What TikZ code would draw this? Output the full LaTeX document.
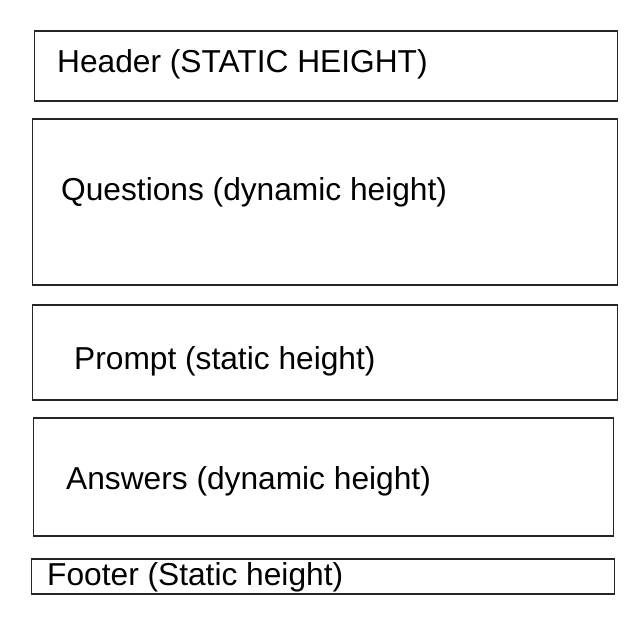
\documentclass[tikz,border=0pt]{standalone}
\usepackage{fontspec}
\setmainfont{Liberation Sans}
\begin{document}
\begin{tikzpicture}[x=1pt,y=-1pt,
  panel/.style={draw=black!85,line width=1.8pt,inner sep=0pt,anchor=north west,minimum width=#1},
  lbl/.style={anchor=base west,inner sep=0pt,font=\fontsize{31.7}{36}\selectfont,text=black}]
\useasboundingbox (0,0) rectangle (635,627);
\node[panel=583pt,minimum height=70pt] (header) at (33.5,30) {};
\node[panel=585pt,minimum height=166pt] (questions) at (31.5,118) {};
\node[panel=585pt,minimum height=95pt] (prompt) at (31.5,304) {};
\node[panel=580pt,minimum height=118pt] (answers) at (32.5,417) {};
\node[panel=583pt,minimum height=35pt] (footer) at (30.5,558) {};
\node[lbl] (headerlbl) at (57,72.5) {Header (STATIC HEIGHT)};
\node[lbl] (questionslbl) at (61,200) {Questions (dynamic height)};
\node[lbl] (promptlbl) at (74,369.5) {Prompt (static height)};
\node[lbl] (answerslbl) at (66,489) {Answers (dynamic height)};
\node[lbl] (footerlbl) at (47,585) {Footer (Static height)};
\end{tikzpicture}
\end{document}
